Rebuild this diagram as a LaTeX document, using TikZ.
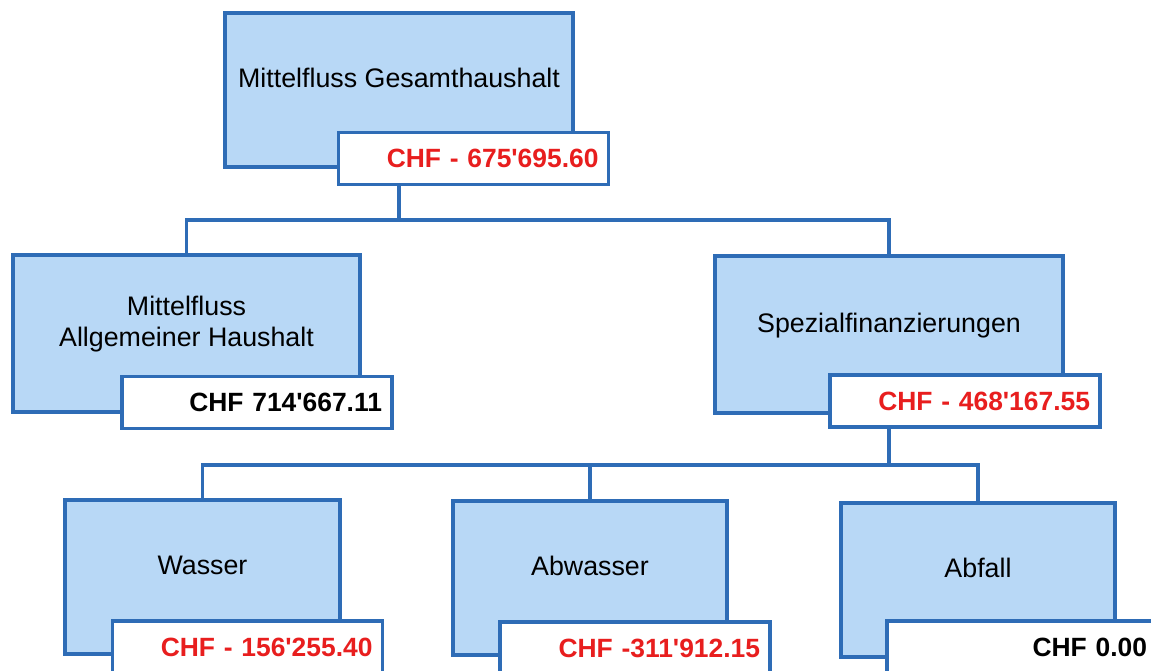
\documentclass[tikz,border=0pt]{standalone}
\usepackage{fontspec}
\setmainfont{Liberation Sans}[Ligatures=TeXOff]
\usetikzlibrary{backgrounds}
\definecolor{rahmenblau}{RGB}{46,108,182}
\definecolor{kastenblau}{RGB}{184,216,246}
\definecolor{betragrot}{RGB}{232,30,30}
\tikzset{
  kasten/.style={draw=rahmenblau, line width=2pt, fill=kastenblau, minimum height=77pt,
    align=center, text depth=12pt, font=\fontsize{13.4}{15.5}\selectfont},
  betrag/.style={draw=rahmenblau, line width=1.6pt, fill=white, minimum height=26pt,
    text width=125pt, inner xsep=5pt, align=right, font=\bfseries\fontsize{13.2}{15}\selectfont},
  verbindung/.style={rahmenblau, line width=1.6pt},
}

\begin{document}
\begin{tikzpicture}[x=0.5pt, y=-0.5pt]
        \useasboundingbox (0,0) rectangle (1151,670);

        % Ebene 1
        \node[kasten, minimum width=174pt] (gesamt) at (399,90) {Mittelfluss Gesamthaushalt};
        \node[betrag, text=betragrot] (gesamtwert) at (473.5,158.5) {CHF - 675'695.60};

        % Ebene 2
        \node[kasten, minimum width=173.5pt, minimum height=78.5pt] (allg) at (186.5,333.5) {Mittelfluss\\Allgemeiner Haushalt};
        \node[betrag] (allgwert) at (257,402.5) {CHF 714'667.11};
        \node[kasten, minimum width=174pt, minimum height=78.5pt] (spez) at (889,334.5) {Spezialfinanzierungen};
        \node[betrag, text=betragrot] (spezwert) at (965,401) {CHF - 468'167.55};

        % Ebene 3
        \node[kasten, minimum width=137.5pt] (wasser) at (202.5,577) {Wasser};
        \node[betrag, text=betragrot] (wasserwert) at (247.5,647) {CHF - 156'255.40};
        \node[kasten, minimum width=137pt] (abwasser) at (590,577.5) {Abwasser};
        \node[betrag, text=betragrot] (abwasserwert) at (635,648) {CHF -311'912.15};
        \node[kasten, minimum width=137pt] (abfall) at (978,579.5) {Abfall};
        \node[betrag] (abfallwert) at (1022,647) {CHF 0.00};

        \coordinate (ast1) at (399,220);
        \coordinate (ast2) at (889,465);

        \begin{scope}[on background layer]
          \draw[verbindung] (gesamt.south) -- (ast1);
          \draw[verbindung] (allg.north) |- (ast1);
          \draw[verbindung] (spez.north) |- (ast1);
          \draw[verbindung] (spez.south) -- (ast2);
          \draw[verbindung] (wasser.north) |- (ast2);
          \draw[verbindung] (abwasser.north) |- (ast2);
          \draw[verbindung] (abfall.north) |- (ast2);
        \end{scope}
      \end{tikzpicture}
\end{document}
